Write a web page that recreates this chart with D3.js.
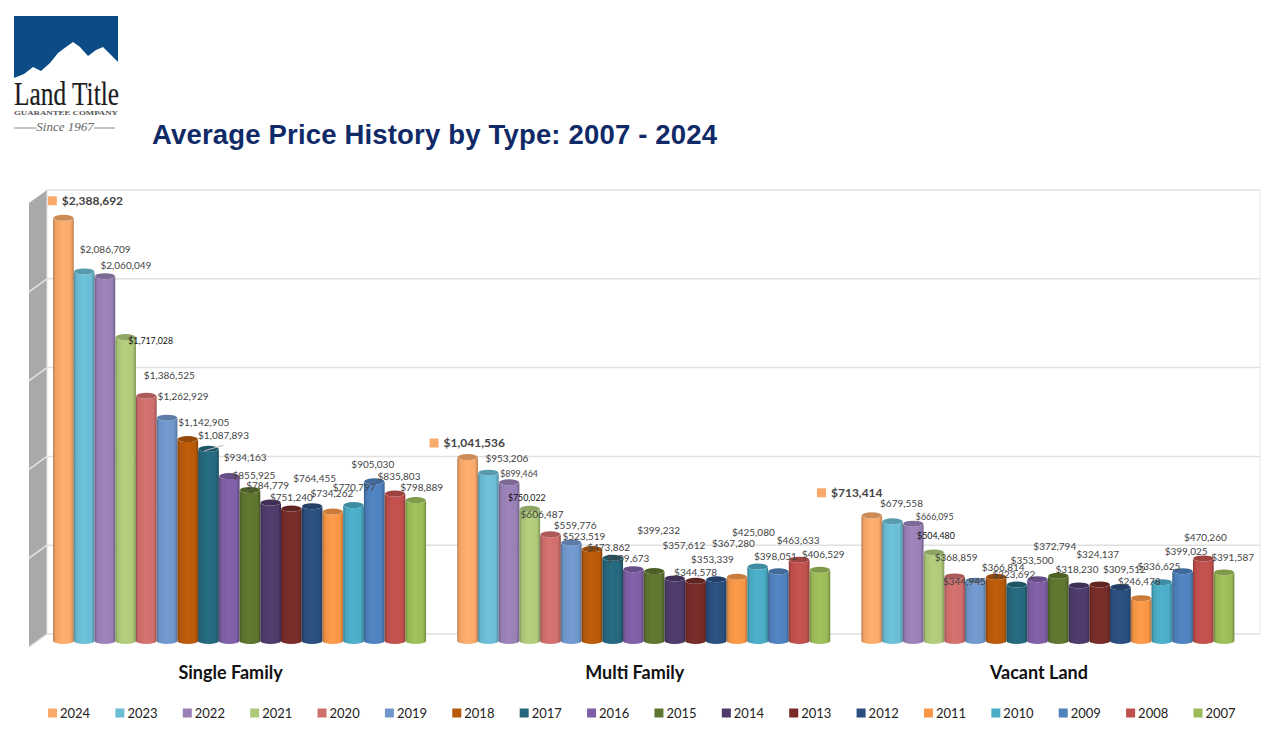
<!DOCTYPE html>
<html><head><meta charset="utf-8">
<style>html,body{margin:0;padding:0;background:#fff}svg{display:block}</style>
<script src="https://cdn.jsdelivr.net/npm/d3@7"></script></head>
<body><div id="chart"></div>
<script>
const categories = ["Single Family","Multi Family","Vacant Land"];
const years = [2024,2023,2022,2021,2020,2019,2018,2017,2016,2015,2014,2013,2012,2011,2010,2009,2008,2007];
const singleFamily = [2388692,2086709,2060049,1717028,1386525,1262929,1142905,1087893,934163,855925,784779,751240,764455,734262,770797,905030,835803,798889];
const multiFamily = [1041536,953206,899464,750022,606487,559776,523519,473862,409673,399232,357612,344578,353339,367280,425080,398051,463633,406529];
const vacantLand = [713414,679558,666095,504480,368859,344945,366814,323692,353500,372794,318230,324137,309512,246478,336625,399025,470260,391587];
const seriesValues = [singleFamily,multiFamily,vacantLand];
const yearColors = ["#F9A96A","#6BBCD4","#9880B6","#AEC97A","#CF6F6D","#7097CB","#B85A0A","#25687D","#7F5FA5","#5E7630","#4E3B6A","#772C2A","#2A4F7E","#F79646","#4BACC6","#4F81BD","#C0504D","#9BBB59"];
const gridTicks = [0,500000,1000000,1500000,2000000,2500000];
// hand-placed data label nudges, relative to the top of each bar
const labelDx = [
 [29,21,21,25,23,16,16,15,16,4,-3,0,2.5,-1,0.5,-1.5,4,6],
 [6.6,18.5,10,-3,-8.5,4,-8,-4,-5.5,4.5,9,0,-3.8,-3.6,-4.4,-3,-1,3.3],
 [-15,9,21.5,2,1.5,-11,7,-3,-5.5,-3.5,-2,-2,4,-2,-3,3.5,2,8.6]];
const labelDy = [
 [-18,-23,-12,3,-21.5,-22.5,-17.5,-14,-19.5,-15.5,-18.5,-12.5,-28.5,-19.5,-18.5,-17.5,-18.5,-13.5],
 [-15,-15.6,-9,-12,-20.6,-18,-14,-11,-12,-41.6,-34,-9,-21,-34,-35,-16,-20,-16],
 [-23.5,-18.5,-8,-17,-20,0,-10.5,-11,-20,-30,-17,-31,-19,-18,-17,-21,-22,-16]];

const W=1280,H=752;
const svg=d3.select("#chart").append("svg").attr("width",W).attr("height",H);
const defs=svg.append("defs");
const fmt=d3.format("$,");
const LABEL_FONT="Lato, 'Open Sans', sans-serif";

/* ---------- logo ---------- */
const logo=svg.append("g");
logo.append("path").attr("fill","#0B4C86")
 .attr("d","M14,16H118V62L110,54L103,47L96,50L88,56L80,47L73,42L66,47L58,53L50,63L41,71L33,67L24,74L14,78Z");
logo.append("text").attr("x",66.5).attr("y",105).attr("text-anchor","middle")
 .attr("font-family","'Liberation Serif',serif").attr("font-size",33).attr("fill","#1c1c1c")
 .attr("stroke","#1c1c1c").attr("stroke-width",0.2)
 .attr("textLength",105).attr("lengthAdjust","spacingAndGlyphs").text("Land Title");
logo.append("text").attr("x",66).attr("y",115).attr("text-anchor","middle")
 .attr("font-family","'Liberation Serif',serif").attr("font-weight",700).attr("font-size",7).attr("fill","#555")
 .attr("textLength",104).attr("lengthAdjust","spacingAndGlyphs").text("GUARANTEE COMPANY");
logo.append("text").attr("x",65).attr("y",131).attr("text-anchor","middle")
 .attr("font-family","'Liberation Serif',serif").attr("font-style","italic").attr("font-size",13).attr("fill","#666").text("Since 1967");
logo.selectAll("line").data([[14,36],[94,115]]).join("line")
 .attr("x1",d=>d[0]).attr("x2",d=>d[1]).attr("y1",128).attr("y2",128).attr("stroke","#888");

/* ---------- title ---------- */
svg.append("text").attr("x",152).attr("y",144)
 .attr("font-family","'Liberation Sans',Arial,sans-serif").attr("font-weight",700).attr("font-size",27.5)
 .attr("textLength",565).attr("lengthAdjust","spacing")
 .attr("fill","#0F2A66").text("Average Price History by Type: 2007 - 2024");

/* ---------- scales ---------- */
const yGrid=d3.scaleLinear().domain([0,2500000]).range([634,190]);
const y=d3.scaleLinear().domain([0,2500000]).range([642,198]);
const x0=d3.scaleBand().domain(categories).range([37.5,1250]);
const x1=d3.scaleBand().domain(years).range([0,373]);
const groupLeft=c=>x0(c)+(x0.bandwidth()-x1.range()[1])/2;
const wallDx=18,wallDy=13,wallX=47,rightX=1260;

/* ---------- walls and grid ---------- */
svg.append("path").attr("fill","#A9A9A9")
 .attr("d",`M${wallX-wallDx},${yGrid(2500000)+wallDy}L${wallX},${yGrid(2500000)}L${wallX},${yGrid(0)}L${wallX-wallDx},${yGrid(0)+wallDy}Z`);
svg.append("g").selectAll("line").data(gridTicks).join("line")
 .attr("x1",wallX).attr("x2",rightX).attr("y1",d=>yGrid(d)).attr("y2",d=>yGrid(d))
 .attr("stroke","#E0E0E0").attr("stroke-width",1.5);
svg.append("g").selectAll("line").data(gridTicks.slice(1,-1)).join("line")
 .attr("x1",wallX).attr("x2",wallX-wallDx).attr("y1",d=>yGrid(d)).attr("y2",d=>yGrid(d)+wallDy)
 .attr("stroke","#E4E4E4").attr("stroke-width",1.5);
svg.append("line").attr("x1",wallX).attr("x2",wallX).attr("y1",yGrid(2500000)).attr("y2",yGrid(0)).attr("stroke","#E0E0E0").attr("stroke-width",1);
svg.append("line").attr("x1",rightX).attr("x2",rightX).attr("y1",yGrid(2500000)).attr("y2",yGrid(0)).attr("stroke","#E8E8E8").attr("stroke-width",1);
svg.append("line").attr("x1",wallX-wallDx).attr("x2",wallX).attr("y1",yGrid(0)+wallDy).attr("y2",yGrid(0)).attr("stroke","#DDD").attr("stroke-width",1.5);

/* ---------- cylinder gradients ---------- */
yearColors.forEach((c,i)=>{
  const g=defs.append("linearGradient").attr("id","cyl"+i).attr("x1",0).attr("x2",1).attr("y1",0).attr("y2",0);
  const stops=[[0,d3.color(c).darker(0.9)],[0.12,d3.color(c).darker(0.1)],[0.45,d3.color(c).brighter(0.1)],[0.85,d3.color(c)],[1,d3.color(c).darker(0.8)]];
  stops.forEach(s=>g.append("stop").attr("offset",s[0]).attr("stop-color",s[1].formatHex()));
});

/* ---------- bars ---------- */
const capRy=3;
const groups=svg.append("g").selectAll("g").data(categories).join("g")
  .attr("transform",c=>`translate(${groupLeft(c)},0)`);
const rows=(c,ci)=>seriesValues[ci].map((v,i)=>({v,i,year:years[i],ci}));
groups.each(function(c,ci){
  const g=d3.select(this);
  const bw=x1.bandwidth();
  const b=g.selectAll("g.bar").data(rows(c,ci)).join("g").attr("class","bar");
  b.append("path").attr("fill",d=>`url(#cyl${d.i})`)
   .attr("d",d=>{const l=x1(d.year),r=l+bw,t=y(d.v),rx=bw/2,base=y(0)-1;
     return `M${l},${t}L${l},${base}A${rx},${capRy},0,0,0,${r},${base}L${r},${t}A${rx},${capRy},0,0,1,${l},${t}Z`;});
  b.append("ellipse").attr("cx",d=>x1(d.year)+bw/2).attr("cy",d=>y(d.v)).attr("rx",bw/2-0.3).attr("ry",capRy)
   .attr("fill",d=>d3.color(yearColors[d.i]).darker(0.55).formatHex());
});

/* leader line on the 2017 single family label */
const lead17=years.indexOf(2017);
svg.append("line")
 .attr("x1",groupLeft(categories[0])+x1(2017)+x1.bandwidth()/2-4)
 .attr("y1",y(singleFamily[lead17])+2)
 .attr("x2",groupLeft(categories[0])+x1(2017)+x1.bandwidth()/2+15)
 .attr("y2",y(singleFamily[lead17])-3.5)
 .attr("stroke","#BDBDBD").attr("stroke-width",1);

/* ---------- value labels ---------- */
const isBold=i=>i===0;
const isSmall=(ci,i)=>i===3||(ci>0&&i===2);
categories.forEach((c,ci)=>{
  const left=groupLeft(c),bw=x1.bandwidth();
  const labels=svg.append("g").selectAll("text").data(seriesValues[ci]).join("text")
   .attr("x",(v,i)=>left+x1(years[i])+bw/2+labelDx[ci][i])
   .attr("y",(v,i)=>y(v)+labelDy[ci][i]+0.5)
   .attr("text-anchor","middle").attr("dominant-baseline","central")
   .attr("font-family",LABEL_FONT)
   .attr("font-size",(v,i)=>isBold(i)?12:(isSmall(ci,i)?8.8:10))
   .attr("font-weight",(v,i)=>isBold(i)?700:400)
   .attr("fill",(v,i)=>isSmall(ci,i)&&i===3?"#111":"#444")
   .text(v=>fmt(v));
  /* square key to the left of the bold 2024 label */
  const first=labels.filter((v,i)=>i===0).node();
  const textW=first.getComputedTextLength();
  svg.append("rect").attr("width",9).attr("height",9).attr("fill",yearColors[0])
   .attr("x",+first.getAttribute("x")-textW/2-14)
   .attr("y",y(seriesValues[ci][0])+labelDy[ci][0]-3.5);
});

/* ---------- category labels ---------- */
svg.append("g").selectAll("text").data(categories).join("text")
 .attr("x",c=>x0(c)+x0.bandwidth()/2-9).attr("y",679).attr("text-anchor","middle")
 .attr("font-family",LABEL_FONT).attr("font-weight",700).attr("font-size",18).attr("fill","#111")
 .text(c=>c);

/* ---------- legend ---------- */
const legendX=d3.scalePoint().domain(years).range([48,1193.5]);
const leg=svg.append("g").selectAll("g").data(years).join("g")
 .attr("transform",d=>`translate(${legendX(d)},713)`);
leg.append("rect").attr("y",-4.5).attr("width",9).attr("height",9).attr("fill",(d,i)=>yearColors[i]);
leg.append("text").attr("x",12).attr("dominant-baseline","central")
 .attr("font-family",LABEL_FONT).attr("font-size",13).attr("fill","#222").text(d=>d);
</script></body></html>
